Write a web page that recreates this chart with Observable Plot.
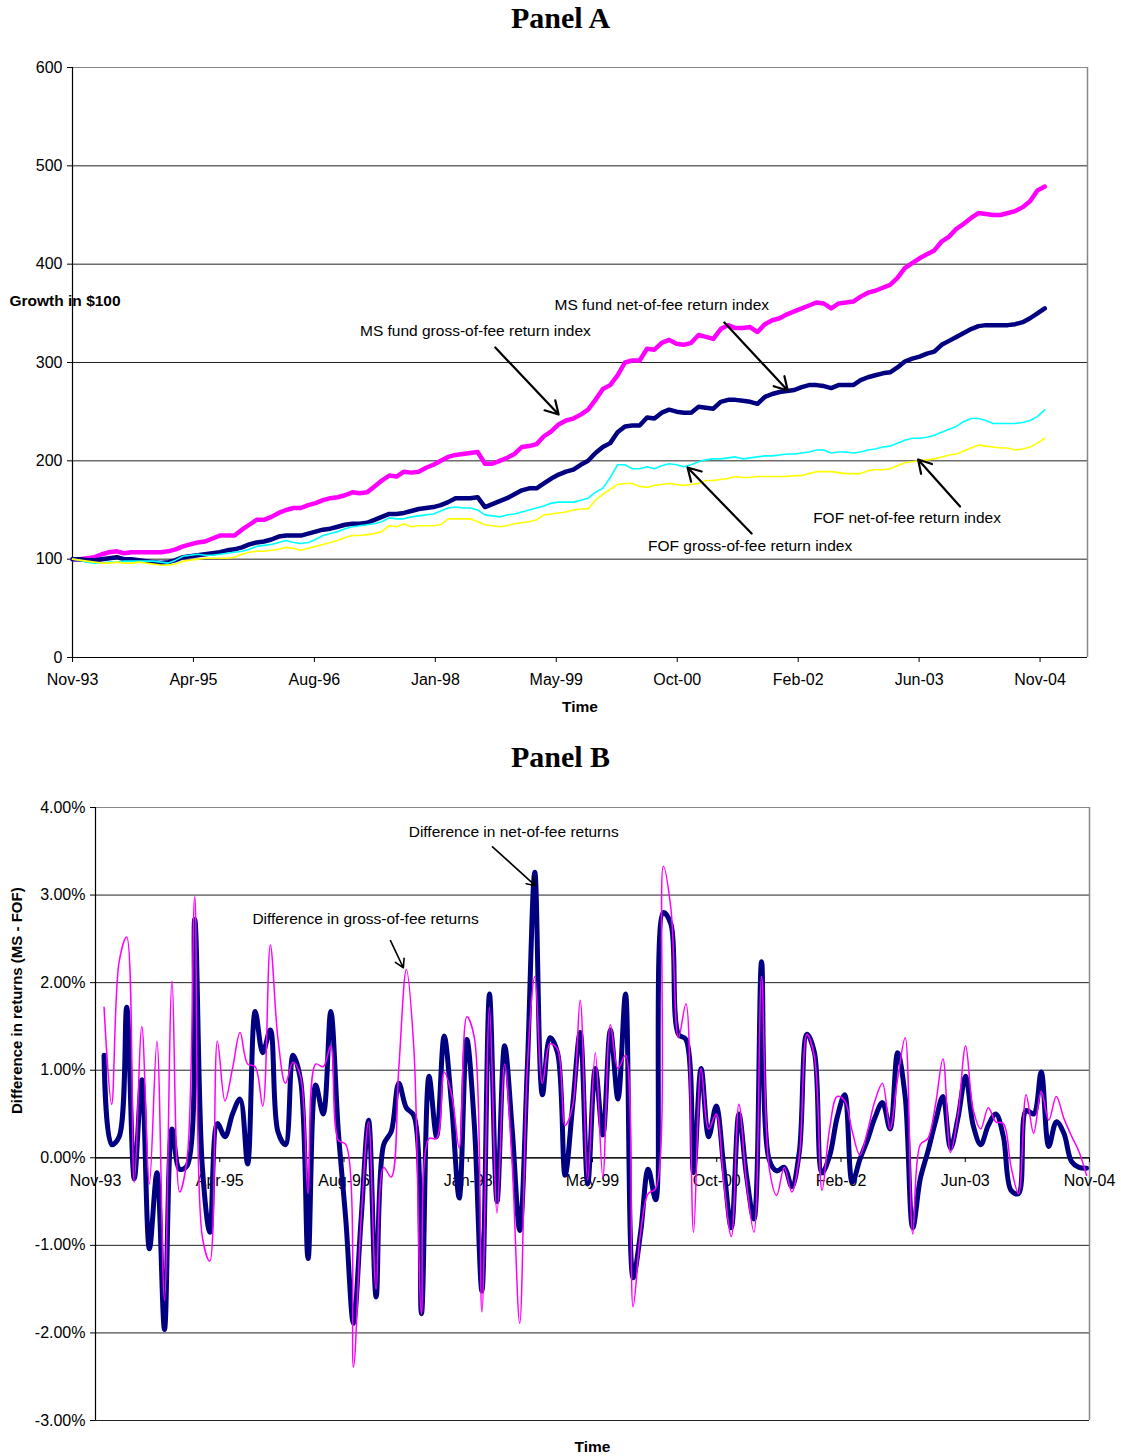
<!DOCTYPE html>
<html>
<head>
<meta charset="utf-8">
<script src="https://cdn.jsdelivr.net/npm/d3@7"></script>
<script src="https://cdn.jsdelivr.net/npm/@observablehq/plot@0.6"></script>
<style>
  html, body { margin: 0; padding: 0; background: #fff; }
  body { width: 1121px; font-family: "Liberation Sans", Arial, sans-serif; }
  .title { font-family: "Liberation Serif", "Times New Roman", serif; font-weight: bold; font-size: 30px; text-align: center; color: #000; }
  #titleA { height: 40px; line-height: 36px; }
  #titleB { height: 65px; line-height: 74px; }
  svg { display: block; }
</style>
</head>
<body>
<div id="titleA" class="title">Panel A</div>
<div id="chartA"></div>
<div id="titleB" class="title">Panel B</div>
<div id="chartB"></div>
<script>
// ---------- Data ----------
const xTickLabels = ["Nov-93", "Apr-95", "Aug-96", "Jan-98", "May-99", "Oct-00", "Feb-02", "Jun-03", "Nov-04"];

// Panel A: growth of $100, monthly Nov-93 .. Nov-04
const msGross = [100,100,101,102,105,107,108,106,107,107,
  107,107,107,108,110,113,115,117,118,121,
  124,124,124,130,135,140,140,143,147,150,
  152,152,155,157,160,162,163,165,168,167,
  168,174,180,185,184,189,188,189,193,196,
  200,204,206,207,208,209,197,197,200,203,
  207,214,215,217,225,230,237,241,243,247,
  252,262,273,277,287,300,302,302,314,313,
  320,323,319,318,320,328,326,324,334,338,
  335,335,336,331,339,343,345,349,352,355,
  358,361,360,355,360,361,362,367,371,373,
  376,379,386,396,401,406,410,414,423,428,
  436,441,447,452,451,450,450,452,454,458,
  464,475,479];
const msNet = [100,100,99,99,100,101,102,100,100,99,
  98,97,96,97,99,102,103,104,105,106,
  107,109,110,112,115,117,118,120,123,124,
  124,124,126,128,130,131,133,135,136,136,
  137,140,143,146,146,147,149,151,152,153,
  155,158,162,162,162,163,153,156,159,162,
  166,170,172,172,177,182,186,189,191,196,
  200,208,214,218,229,235,236,236,244,243,
  249,252,250,249,249,255,254,253,260,262,
  262,261,260,258,265,268,270,271,272,275,
  277,277,276,274,277,277,277,282,285,287,
  289,290,295,301,304,306,309,311,318,322,
  326,330,334,337,338,338,338,338,339,341,
  345,350,355];
const fofGross = [100,99,97,96,96,97,97,98,98,98,
  98,98,97,96,99,103,104,105,104,104,
  105,106,107,108,110,113,114,115,117,119,
  117,116,117,120,124,126,128,131,133,134,
  135,136,138,142,141,141,143,144,145,146,
  149,152,153,152,152,150,145,144,143,145,
  146,148,150,152,154,157,158,158,158,160,
  162,168,172,183,196,196,192,192,194,192,
  195,197,196,194,196,199,201,202,202,203,
  204,202,203,204,205,205,206,207,207,208,
  209,211,211,208,209,209,208,209,211,212,
  214,215,218,221,223,223,224,226,229,232,
  235,240,243,243,241,238,238,238,238,239,
  241,245,252];
const fofNet = [100,99,98,97,96,96,97,96,96,97,
  96,95,94,94,95,98,99,100,101,101,
  101,101,102,105,107,108,108,109,110,112,
  111,109,111,113,115,117,119,122,124,124,
  125,126,128,134,133,136,133,134,134,134,
  135,141,141,141,141,138,135,134,133,134,
  136,137,138,140,145,146,147,148,150,151,
  151,160,166,171,176,177,177,174,173,175,
  176,177,176,175,176,177,180,180,181,182,
  184,183,183,184,184,184,184,184,185,185,
  187,189,189,189,188,187,187,187,190,191,
  191,192,195,198,199,200,201,202,204,206,
  207,210,213,216,215,214,213,213,211,212,
  214,218,223];

// Panel B: monthly difference in returns (MS - FOF), in percent, from Dec-93
const diffNet = [1.17,0.15,0.24,1.72,-0.24,0.89,-1.04,-0.17,-1.96,0.33,
  -0.13,-0.09,2.72,-0.1,-0.85,0.39,0.24,0.5,0.67,-0.07,
  1.67,1.2,1.46,0.3,0.15,1.17,0.89,-1.15,0.83,0.5,
  1.67,0.3,-0.72,-1.89,-0.72,0.43,-1.59,0.15,0.3,0.85,
  0.57,0.48,-1.78,0.93,0.24,1.39,0.59,-0.46,1.35,0.37,
  -1.52,1.87,-0.5,1.28,0.33,-0.83,1.02,3.26,0.72,1.37,
  1.2,-0.2,0.59,1.43,-0.3,1.02,0.26,1.46,0.67,1.87,
  -1.37,-0.85,-0.13,-0.48,2.8,2.67,1.41,1.35,-0.17,1.02,
  0.24,0.59,-0.11,-0.8,0.5,-0.2,-0.7,2.24,-0.02,-0.15,
  -0.11,-0.33,0.07,1.41,1.2,-0.17,0.02,0.46,0.72,-0.28,
  -0.02,0.2,0.46,0.63,0.33,1.2,0.7,-0.8,-0.24,0.07,
  0.41,0.7,0.11,0.46,0.93,0.37,0.15,0.37,0.5,0.24,
  -0.37,-0.41,0.54,0.5,0.98,0.13,0.41,0.28,-0.04,-0.11,
  -0.12];
const diffGross = [1.72,0.61,2.24,2.52,-0.28,1.5,-0.3,1.33,-1.63,2.02,
  -0.39,0.0,2.98,-0.9,-1.18,1.33,0.65,1.02,1.43,1.07,
  1.04,0.59,2.43,1.37,0.85,1.09,0.93,-0.41,1.07,1.04,
  1.28,0.2,0.15,-2.39,-0.72,0.41,-1.5,-0.11,-0.22,1.02,
  2.15,1.24,-1.78,0.22,0.22,0.98,0.72,0.11,1.61,1.37,
  -1.76,1.72,-0.63,1.07,-0.07,-1.89,1.02,2.07,0.85,1.3,
  1.24,0.37,0.59,1.8,-0.25,1.2,-0.22,1.52,1.02,1.17,
  -1.7,-0.85,-0.41,-0.35,3.33,2.85,1.37,1.76,-0.85,1.02,
  0.33,0.5,-0.28,-0.9,0.61,-0.28,-0.85,2.07,-0.11,-0.43,
  -0.11,-0.39,0.02,1.41,1.15,-0.37,0.33,0.7,0.65,0.3,
  0.03,0.3,0.65,0.85,0.33,0.9,1.37,-0.87,0.15,0.22,
  0.6,1.13,0.06,0.5,1.28,0.55,0.33,0.57,0.41,0.39,
  -0.1,-0.41,0.72,0.28,0.76,0.43,0.7,0.45,0.25,0.07,
  -0.2];

const yTicksA = [0, 100, 200, 300, 400, 500, 600];
const yTicksB = [-3, -2, -1, 0, 1, 2, 3, 4];

// ---------- Layout / styles ----------
const FONT = "'Liberation Sans', Arial, Helvetica, sans-serif";
const monthsPerTickA = 16.42;   // axis major unit (500 days) in months
const monthsPerTickB = 16.44;
const tickStartB = -0.13;

const tableA = msGross.map((v, m) => ({m, msGross: v, msNet: msNet[m], fofGross: fofGross[m], fofNet: fofNet[m]}));
const tableB = diffNet.map((v, i) => ({m: i + 1, net: v, gross: diffGross[i]}));

const tickPosA = xTickLabels.map((_, i) => i * monthsPerTickA);
const tickPosB = xTickLabels.map((_, i) => tickStartB + i * monthsPerTickB);
const xMaxA = 137.8;
const xMinB = tickPosB[0], xMaxB = tickPosB[tickPosB.length - 1];

const labelsA = [
  {m: 80.0, v: 358, text: "MS fund net-of-fee return index"},
  {m: 54.7, v: 331.5, text: "MS fund gross-of-fee return index"},
  {m: 113.3, v: 141.4, text: "FOF net-of-fee return index"},
  {m: 92.0, v: 112.9, text: "FOF gross-of-fee return index"}
];
const arrowsA = [
  {x1: 88.5, y1: 340.7, x2: 97.1, y2: 271.5},
  {x1: 57.4, y1: 315.3, x2: 66.0, y2: 247.1},
  {x1: 120.5, y1: 153.6, x2: 114.8, y2: 201.4},
  {x1: 92.2, y1: 126.1, x2: 83.5, y2: 193.2}
];
const labelsB = [
  {m: 55.2, v: 3.72, text: "Difference in net-of-fee returns"},
  {m: 35.6, v: 2.73, text: "Difference in gross-of-fee returns"}
];
const arrowsB = [
  {x1: 52.4, y1: 3.55, x2: 58.1, y2: 3.106},
  {x1: 38.9, y1: 2.48, x2: 40.6, y2: 2.17}
];

// ---------- Panel A ----------
const chartA = Plot.plot({
  width: 1121, height: 680,
  marginTop: 27, marginBottom: 63, marginLeft: 72, marginRight: 34,
  style: {fontFamily: FONT, fontSize: "16px", color: "#000", background: "#fff", overflow: "visible"},
  x: {domain: [0, xMaxA]},
  y: {domain: [0, 600]},
  marks: [
    Plot.ruleY(yTicksA.filter(d => d > 0 && d < 600), {stroke: "#222", strokeWidth: 1}),
    Plot.ruleY([600], {stroke: "#888", strokeWidth: 1.2}),
    Plot.ruleX([xMaxA], {stroke: "#888", strokeWidth: 1.5}),
    Plot.ruleY([0], {stroke: "#000", strokeWidth: 1.2}),
    Plot.ruleX([0], {stroke: "#000", strokeWidth: 1.2}),
    Plot.axisY({ticks: yTicksA, tickSize: 5, tickPadding: 5, tickFormat: d => String(d), label: null, fill: "#000"}),
    Plot.axisX({ticks: tickPosA, tickSize: 5, tickPadding: 11, tickFormat: (d, i) => xTickLabels[i], label: null, fill: "#000"}),
    Plot.line(tableA, {x: "m", y: "msGross", stroke: "#FF00FF", strokeWidth: 4.5}),
    Plot.line(tableA, {x: "m", y: "msNet", stroke: "#000080", strokeWidth: 4.5}),
    Plot.line(tableA, {x: "m", y: "fofGross", stroke: "#00FFFF", strokeWidth: 1.6}),
    Plot.line(tableA, {x: "m", y: "fofNet", stroke: "#FFFF00", strokeWidth: 1.6}),
    Plot.arrow(arrowsA, {x1: "x1", y1: "y1", x2: "x2", y2: "y2", stroke: "#000", strokeWidth: 2.2, headLength: 10}),
    Plot.text(labelsA, {x: "m", y: "v", text: "text", fontSize: 15.5, fill: "#000"}),
    Plot.text(["Growth in $100"], {y: () => 363, frameAnchor: "left", textAnchor: "start", dx: -63, fontWeight: "bold", fontSize: 15.5, fill: "#000"}),
    Plot.text(["Time"], {frameAnchor: "bottom", dy: 54, fontWeight: "bold", fontSize: 15.5, fill: "#000"})
  ]
});
document.getElementById("chartA").append(chartA);

// ---------- Panel B ----------
const chartB = Plot.plot({
  width: 1121, height: 671,
  marginTop: 22, marginBottom: 36, marginLeft: 95, marginRight: 32,
  style: {fontFamily: FONT, fontSize: "16px", color: "#000", background: "#fff", overflow: "visible"},
  x: {domain: [xMinB, xMaxB], axis: null},
  y: {domain: [-3, 4]},
  marks: [
    Plot.ruleY(yTicksB.filter(d => d < 4), {stroke: "#222", strokeWidth: 1}),
    Plot.ruleY([4], {stroke: "#888", strokeWidth: 1.2}),
    Plot.ruleX([xMaxB], {stroke: "#888", strokeWidth: 1.5}),
    Plot.ruleY([0], {stroke: "#000", strokeWidth: 1.2}),
    Plot.ruleX([xMinB], {stroke: "#000", strokeWidth: 1.2}),
    Plot.axisY({ticks: yTicksB, tickSize: 5, tickPadding: 5, tickFormat: d => d.toFixed(2) + "%", label: null, fill: "#000"}),
    Plot.ruleX(tickPosB, {y1: 0, y2: -0.055, stroke: "#000", strokeWidth: 1}),
    Plot.text(tickPosB, {x: d => d, y: () => 0, text: (d, i) => xTickLabels[i], dy: 23, fontSize: 16, fill: "#000"}),
    Plot.line(tableB, {x: "m", y: "net", stroke: "#000080", strokeWidth: 5, curve: "catmull-rom"}),
    Plot.line(tableB, {x: "m", y: "gross", stroke: "#FF00FF", strokeWidth: 1.5, curve: "catmull-rom"}),
    Plot.arrow(arrowsB, {x1: "x1", y1: "y1", x2: "x2", y2: "y2", stroke: "#000", strokeWidth: 1.6, headLength: 9}),
    Plot.text(labelsB, {x: "m", y: "v", text: "text", fontSize: 15.5, fill: "#000"}),
    Plot.text(["Difference in returns (MS - FOF)"], {frameAnchor: "left", rotate: -90, dx: -78, fontWeight: "bold", fontSize: 15, fill: "#000"}),
    Plot.text(["Time"], {frameAnchor: "bottom", dy: 31, fontWeight: "bold", fontSize: 15.5, fill: "#000"})
  ]
});
document.getElementById("chartB").append(chartB);
</script>
</body>
</html>
